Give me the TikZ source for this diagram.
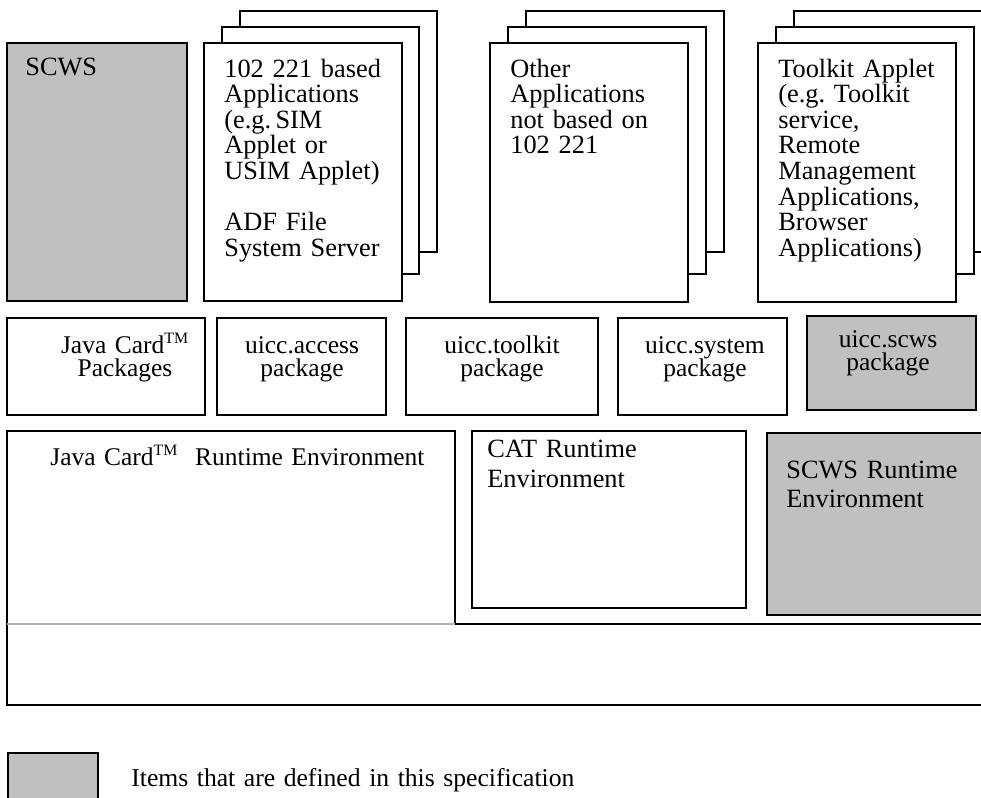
\documentclass[tikz,border=0pt]{standalone}
\usepackage{fontspec}
\setmainfont{Liberation Serif}
\definecolor{specgray}{HTML}{C0C0C0}
\newcommand{\tm}{\textsuperscript{\fontsize{9}{9}\selectfont TM}}
\newcommand{\tightlines}{\lineskiplimit=-20pt\relax}
\begin{document}
\begin{tikzpicture}[x=0.02cm, y=-0.02cm,
	box/.style = {draw, line width=0.75pt, fill=white},
	specbox/.style = {box, fill=specgray},
	lbl/.style = {inner sep=0, anchor=base west, align=left, text width=#1,
		font=\fontsize{15}{14.6}\selectfont},
	lbl/.default = 180pt,
	pkg/.style = {inner sep=0, anchor=base, align=center, text width=#1,
		font=\fontsize{14.5}{13.5}\selectfont\tightlines}]
	\useasboundingbox (0,0) rectangle (981,798);
	\clip (0,0) rectangle (981,798);
	% applications
	\draw[specbox] (7,43) rectangle (187,301);
	\node (scws) at (25,75) [lbl=80pt] {SCWS};
	\draw[box] (240,11) rectangle (437,252);
	\draw[box] (222,27) rectangle (419,274);
	\draw[box] (204,43) rectangle (402,301);
	\node (apps) at (224,77) [lbl=100pt] {
		102 221 based\\ Applications\\ (e.g.\,SIM\\ Applet or\\ USIM Applet)\\[14.6pt]
		ADF File\\ System Server
	};
	\draw[box] (526,11) rectangle (724,252);
	\draw[box] (508,27) rectangle (706,274);
	\draw[box] (490,43) rectangle (688,302);
	\node (other) at (510,77) [lbl=100pt] {
		Other\\ Applications\\ not based on\\ 102 221
	};
	\draw[box] (794,11) rectangle (992,252);
	\draw[box] (776,27) rectangle (974,274);
	\draw[box] (758,43) rectangle (956,302);
	\node (toolkit) at (778,77) [lbl=100pt] {
		Toolkit Applet\\ (e.g.\ Toolkit\\ service,\\ Remote\\ Management\\ Applications,\\ Browser\\ Applications)
	};
	% packages
	\draw[box] (7,318) rectangle (205,415);
	\node (jcpkg) at (125,353) [pkg=100pt] {
		Java Card\tm\\ Packages
	};
	\draw[box] (217,318) rectangle (386,415);
	\node (access) at (302,353) [pkg=90pt] {
		uicc.access\\ package
	};
	\draw[box] (406,318) rectangle (598,415);
	\node (tkpkg) at (502,353) [pkg=90pt] {
		uicc.toolkit\\ package
	};
	\draw[box] (618,318) rectangle (787,415);
	\node (system) at (705,353) [pkg=90pt] {
		uicc.system\\ package
	};
	\draw[specbox] (807,316) rectangle (976,410);
	\node (scwspkg) at (888,347) [pkg=90pt] {
		uicc.scws\\ package
	};
	% runtime environments
	\draw[box] (7,624) rectangle (990,705);
	\draw[line width=0.75pt] (7,624) -- (7,431) -- (455,431) -- (455,624);
	\draw[line width=0.75pt, gray!60] (7,624) -- (455,624);
	\node (jcre) at (50,465) [lbl=250pt, font=\fontsize{14.5}{14.6}\selectfont] {
		Java Card\tm\ \ Runtime Environment
	};
	\draw[box] (472,431) rectangle (746,608);
	\node (catre) at (487,457) [lbl=140pt, font=\fontsize{15}{17.6}\selectfont] {
		CAT Runtime\\ Environment
	};
	\draw[specbox] (767,433) rectangle (990,615);
	\node (scwsre) at (786,478) [lbl=120pt, font=\fontsize{15}{17}\selectfont] {
		SCWS Runtime\\ Environment
	};
	% legend
	\draw[specbox] (8,753) rectangle (98,810);
	\node (legend) at (131,786) [lbl=300pt, font=\fontsize{14.6}{14.6}\selectfont] {
		Items that are defined in this specification
	};
\end{tikzpicture}
\end{document}
